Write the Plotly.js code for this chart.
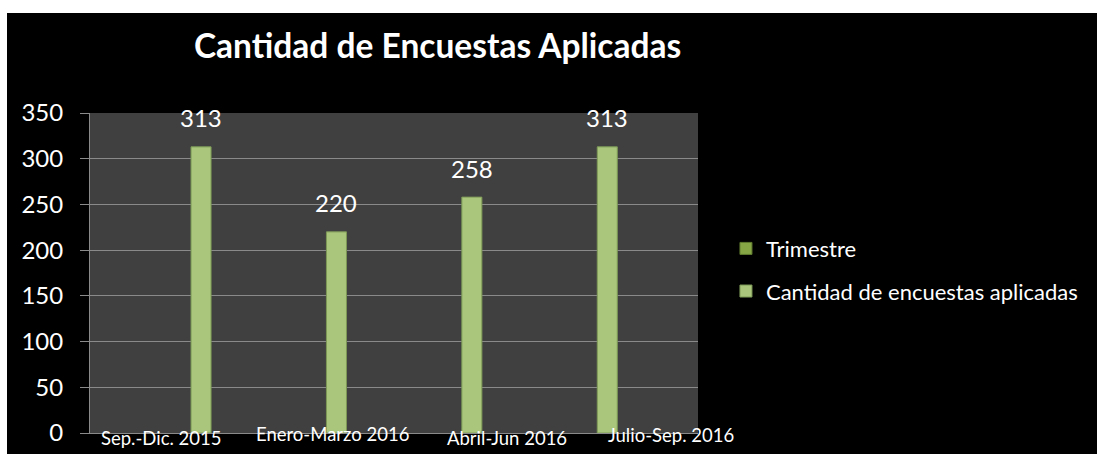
<!DOCTYPE html>
<html>
<head>
<meta charset="utf-8">
<script src="https://cdn.plot.ly/plotly-3.0.1.min.js"></script>
<style>
  html, body { margin: 0; padding: 0; background: #ffffff; width: 1097px; height: 454px; overflow: hidden; }
  #chart { position: absolute; left: 7px; top: 13px; width: 1090px; height: 441px; }
</style>
</head>
<body>
<div id="chart"></div>
<script>
// ---- data ----
const categories = ["Sep.-Dic. 2015", "Enero-Marzo 2016", "Abril-Jun 2016", "Julio-Sep. 2016"];
const encuestas = [313, 220, 258, 313];
const trimestre = [null, null, null, null];
const yTicks = [0, 50, 100, 150, 200, 250, 300, 350];
const seriesNames = ["Trimestre", "Cantidad de encuestas aplicadas"];
const titleText = "Cantidad de Encuestas Aplicadas";

// ---- styles (not data) ----
const FONT = "Lato, 'Open Sans', sans-serif";
const labelShift = [-40, -4, 35, 64];
const labelDrop = [-5, -1, -5, -2];

const traces = [
  {
    type: "bar", name: seriesNames[0], x: categories, y: trimestre,
    marker: { color: "#86a646", line: { color: "#5f7a2e", width: 1 } },
    legendgroup: "a", showlegend: true, hoverinfo: "skip"
  },
  {
    type: "bar", name: seriesNames[1], x: categories, y: encuestas,
    width: 0.148,
    marker: { color: "#a9c67c", line: { color: "#7d9956", width: 1 } },
    legendgroup: "b", hoverinfo: "skip"
  }
];

const annotations = [];
categories.forEach((c, i) => {
  annotations.push({
    x: c, y: encuestas[i], xref: "x", yref: "y",
    text: String(encuestas[i]), showarrow: false,
    yanchor: "middle", yshift: 29,
    font: { family: FONT, size: 24, color: "#ffffff" }
  });
  annotations.push({
    x: c, y: 0, xref: "x", yref: "paper",
    text: c, showarrow: false, yanchor: "middle",
    xshift: labelShift[i], yshift: labelDrop[i],
    font: { family: FONT, size: 18.5, color: "#ffffff" }
  });
});

const layout = {
  width: 1090, height: 441,
  paper_bgcolor: "#000000", plot_bgcolor: "#404040",
  margin: { l: 83, r: 399, t: 100, b: 21 },
  barmode: "overlay",
  showlegend: true,
  title: {
    text: "<b>" + titleText + "</b>",
    font: { family: FONT, size: 33.5, color: "#ffffff" },
    x: 0.395, xref: "container", xanchor: "center",
    y: 0.925, yref: "container", yanchor: "middle"
  },
  xaxis: {
    type: "category", range: [-0.82, 3.67],
    showticklabels: false, ticks: "", showgrid: false,
    showline: true, linecolor: "#8a8a8a", linewidth: 1,
    zeroline: false, fixedrange: true
  },
  yaxis: {
    range: [0, 350], tickvals: yTicks, ticktext: yTicks.map(String),
    showgrid: true, gridcolor: "#8a8a8a", gridwidth: 1,
    showline: true, linecolor: "#8a8a8a", linewidth: 1,
    ticks: "outside", ticklen: 9, tickcolor: "#8a8a8a",
    ticklabelstandoff: 12,
    zeroline: false,
    tickfont: { family: FONT, size: 24, color: "#ffffff" },
    fixedrange: true
  },
  legend: {
    x: 1.046, xanchor: "left", y: 0.509, yanchor: "middle",
    bgcolor: "rgba(0,0,0,0)",
    font: { family: FONT, size: 22, color: "#ffffff" },
    traceorder: "grouped", tracegroupgap: 11,
    itemclick: false, itemdoubleclick: false
  },
  annotations: annotations
};

Plotly.newPlot("chart", traces, layout, { staticPlot: true, displayModeBar: false });
</script>
</body>
</html>
